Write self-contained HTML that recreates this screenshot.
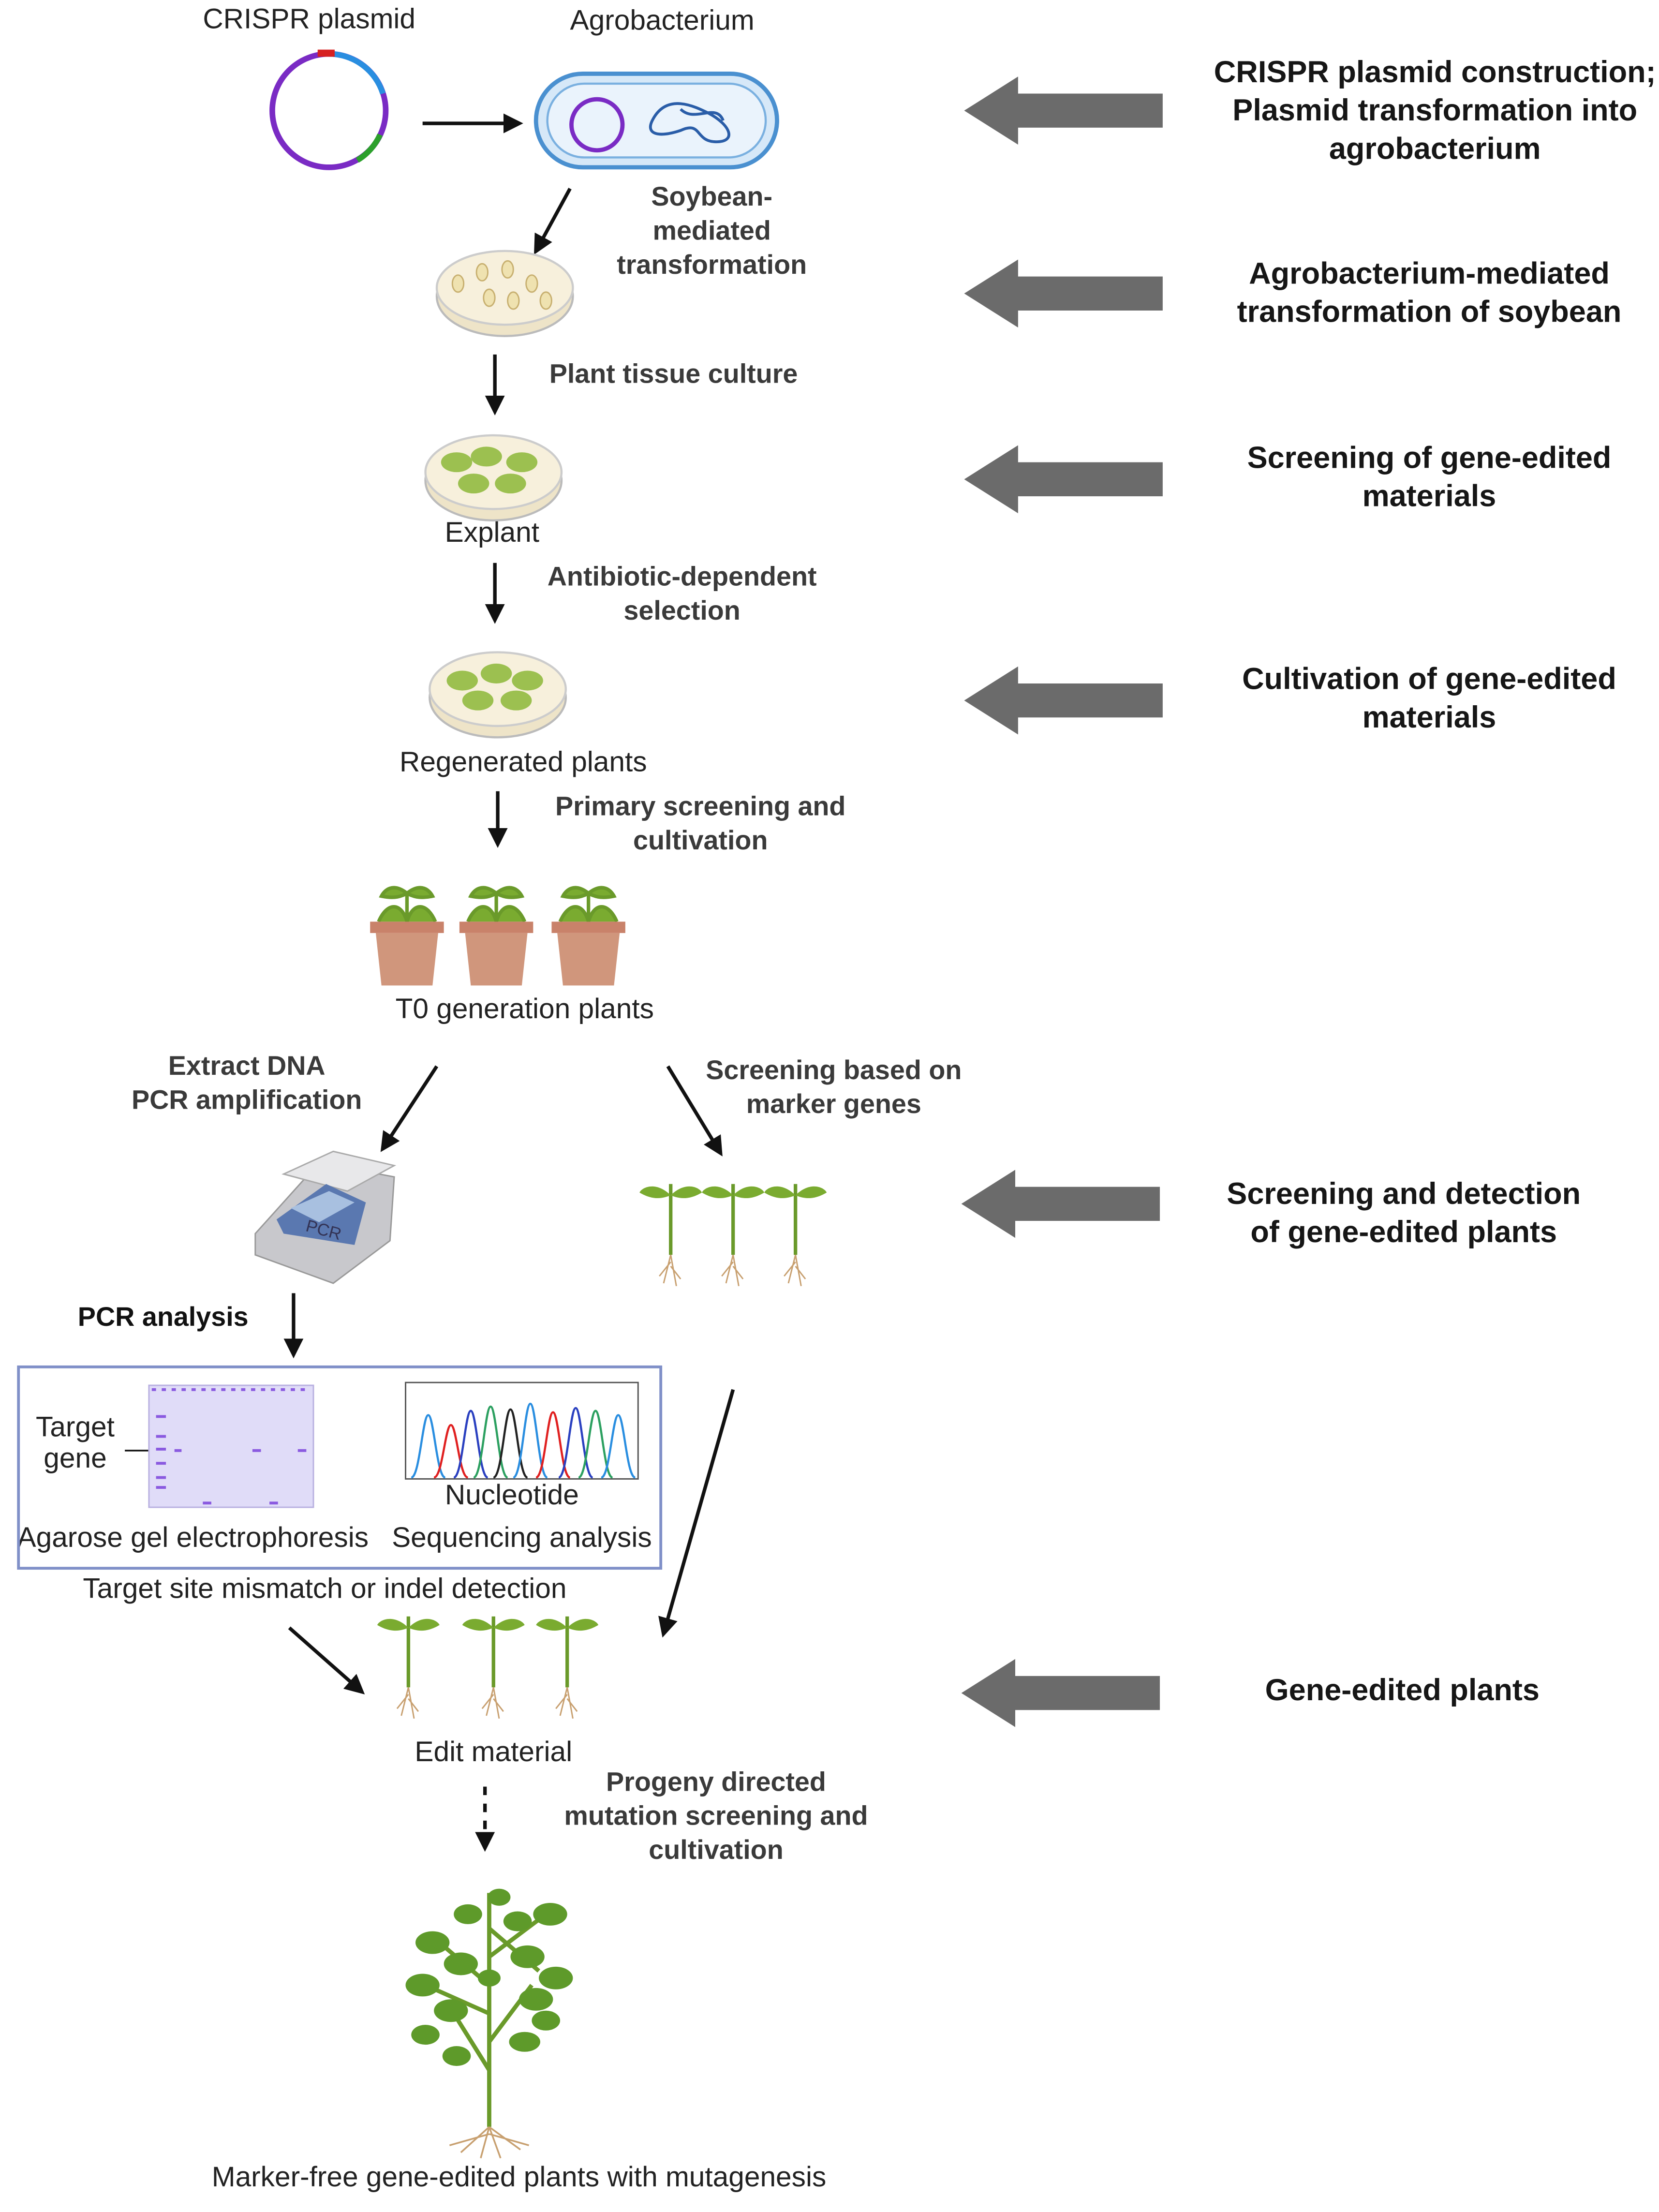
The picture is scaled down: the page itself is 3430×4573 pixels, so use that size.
<!DOCTYPE html>
<html><head><meta charset="utf-8"><style>html,body{margin:0;padding:0;background:#fff}svg{display:block}</style></head>
<body>
<svg width="3430" height="4573" viewBox="0 0 1170 1560" xmlns="http://www.w3.org/2000/svg" font-family="Liberation Sans, sans-serif">
<defs>
<marker id="ah" markerWidth="8" markerHeight="8" refX="6" refY="4" orient="auto" markerUnits="userSpaceOnUse"><path d="M0,0 L8,4 L0,8 z" fill="#111"/></marker>
<marker id="ah2" markerWidth="14" markerHeight="14" refX="11" refY="7" orient="auto" markerUnits="userSpaceOnUse"><path d="M0,0 L14,7 L0,14 z" fill="#111"/></marker>
<g id="dish"><ellipse cx="0" cy="6" rx="48" ry="28" fill="#eee4c8" stroke="#bbb" stroke-width="1.5"/><ellipse cx="0" cy="0" rx="48" ry="26" fill="#f7f0dc" stroke="#ccc" stroke-width="1.5"/></g>
<g id="seed"><path d="M0,0 L0,-50" stroke="#6a9a2a" stroke-width="2.5"/><path d="M0,-42 C-10,-52 -20,-48 -22,-44 C-12,-38 -5,-40 0,-42" fill="#7aab30"/><path d="M0,-42 C10,-52 20,-48 22,-44 C12,-38 5,-40 0,-42" fill="#7aab30"/><path d="M0,0 l-5,20 M0,0 l4,22 M0,5 l-8,10 M0,8 l7,9" stroke="#c8a070" stroke-width="1"/></g>
<g id="pot"><path d="M-20,-40 C-14,-54 -4,-54 0,-40 C4,-54 14,-54 20,-40 M0,-40 L0,-60 M0,-60 C-10,-68 -16,-62 -18,-58 C-8,-56 -4,-58 0,-60 M0,-60 C10,-68 16,-62 18,-58 C8,-56 4,-58 0,-60" stroke="#6a9a2a" stroke-width="2.5" fill="#7aab30"/><rect x="-26" y="-40" width="52" height="8" fill="#c9826a"/><path d="M-22,-32 L22,-32 L18,5 L-18,5 z" fill="#d0967c"/></g>
<g id="garrow"><polygon points="0,0 38,-24 38,-12 140,-12 140,12 38,12 38,24" fill="#6b6b6b"/></g>
</defs>
<g font-size="20" fill="#222" text-anchor="middle">
<text x="218" y="20">CRISPR plasmid</text>
<text x="467" y="21">Agrobacterium</text>
<text x="347" y="382">Explant</text>
<text x="369" y="544">Regenerated plants</text>
<text x="370" y="718">T0 generation plants</text>
<text x="53" y="1013">Target</text><text x="53" y="1035">gene</text>
<text x="361" y="1061">Nucleotide</text>
<text x="136" y="1091">Agarose gel electrophoresis</text>
<text x="368" y="1091">Sequencing analysis</text>
<text x="229" y="1127">Target site mismatch or indel detection</text>
<text x="348" y="1242">Edit material</text>
<text x="366" y="1542">Marker-free gene-edited plants with mutagenesis</text>
</g>
<g font-size="19" font-weight="bold" fill="#3a3a3a" text-anchor="middle">
<text x="502" y="145">Soybean-</text><text x="502" y="169">mediated</text><text x="502" y="193">transformation</text>
<text x="475" y="270">Plant tissue culture</text>
<text x="481" y="413">Antibiotic-dependent</text><text x="481" y="437">selection</text>
<text x="494" y="575">Primary screening and</text><text x="494" y="599">cultivation</text>
<text x="174" y="758">Extract DNA</text><text x="174" y="782">PCR amplification</text>
<text x="588" y="761">Screening based on</text><text x="588" y="785">marker genes</text>
<text x="115" y="935" fill="#111">PCR analysis</text>
<text x="505" y="1263">Progeny directed</text><text x="505" y="1287">mutation screening and</text><text x="505" y="1311">cultivation</text>
</g>
<g font-size="21.5" font-weight="bold" fill="#161616" text-anchor="middle">
<text x="1012" y="58">CRISPR plasmid construction;</text><text x="1012" y="85">Plasmid transformation into</text><text x="1012" y="112">agrobacterium</text>
<text x="1008" y="200">Agrobacterium-mediated</text><text x="1008" y="227">transformation of soybean</text>
<text x="1008" y="330">Screening of gene-edited</text><text x="1008" y="357">materials</text>
<text x="1008" y="486">Cultivation of gene-edited</text><text x="1008" y="513">materials</text>
<text x="990" y="849">Screening and detection</text><text x="990" y="876">of gene-edited plants</text>
<text x="989" y="1199">Gene-edited plants</text>
</g>
<use href="#garrow" x="680" y="78"/><use href="#garrow" x="680" y="207"/><use href="#garrow" x="680" y="338"/><use href="#garrow" x="680" y="494"/><use href="#garrow" x="678" y="849"/><use href="#garrow" x="678" y="1194"/>
<!-- plasmid -->
<circle cx="232" cy="78" r="40" fill="none" stroke="#7a2bc4" stroke-width="4"/>
<path d="M232,38 A40,40 0 0 1 270,66" fill="none" stroke="#2a8ee0" stroke-width="4"/>
<path d="M268,95 A40,40 0 0 1 252,113" fill="none" stroke="#2ca02c" stroke-width="4"/>
<rect x="224" y="35" width="12" height="5" fill="#d62020"/>
<!-- bacterium -->
<rect x="378" y="52" width="170" height="66" rx="33" fill="#d6e8f8" stroke="#4a90d0" stroke-width="3"/>
<rect x="386" y="59" width="154" height="52" rx="26" fill="#eaf3fc" stroke="#7ab0e0" stroke-width="1.5"/>
<circle cx="421" cy="88" r="18" fill="none" stroke="#7a2bc4" stroke-width="3"/>
<path d="M460,85 c10,-20 30,-10 40,-5 c15,8 20,20 5,20 c-15,0 -10,-15 -25,-8 c-15,5 -25,3 -20,-7 m20,-8 c10,10 25,-5 30,8" fill="none" stroke="#2a5da8" stroke-width="2"/>
<!-- arrows -->
<g stroke="#111" stroke-width="2.5" fill="none">
<line x1="298" y1="87" x2="366" y2="87" marker-end="url(#ah2)"/>
<line x1="402" y1="133" x2="378" y2="177" marker-end="url(#ah2)"/>
<line x1="349" y1="250" x2="349" y2="290" marker-end="url(#ah2)"/>
<line x1="349" y1="397" x2="349" y2="437" marker-end="url(#ah2)"/>
<line x1="351" y1="558" x2="351" y2="595" marker-end="url(#ah2)"/>
<line x1="308" y1="752" x2="270" y2="810" marker-end="url(#ah2)"/>
<line x1="471" y1="752" x2="508" y2="813" marker-end="url(#ah2)"/>
<line x1="207" y1="912" x2="207" y2="955" marker-end="url(#ah2)"/>
<line x1="204" y1="1148" x2="255" y2="1193" marker-end="url(#ah2)"/>
<line x1="517" y1="980" x2="468" y2="1152" marker-end="url(#ah2)"/>
<line x1="342" y1="1260" x2="342" y2="1303" stroke-dasharray="6,6" marker-end="url(#ah2)"/>
<line x1="88" y1="1023" x2="118" y2="1023" stroke-width="1.2" marker-end="url(#ah)"/>
</g>
<!-- dishes -->
<use href="#dish" x="356" y="203"/>
<g fill="#efe2b0" stroke="#c8b070"><ellipse cx="323" cy="200" rx="4" ry="6"/><ellipse cx="340" cy="192" rx="4" ry="6"/><ellipse cx="358" cy="190" rx="4" ry="6"/><ellipse cx="375" cy="200" rx="4" ry="6"/><ellipse cx="345" cy="210" rx="4" ry="6"/><ellipse cx="362" cy="212" rx="4" ry="6"/><ellipse cx="385" cy="212" rx="4" ry="6"/></g>
<use href="#dish" x="348" y="333"/>
<g fill="#9cc050"><ellipse cx="322" cy="326" rx="11" ry="7"/><ellipse cx="343" cy="322" rx="11" ry="7"/><ellipse cx="368" cy="326" rx="11" ry="7"/><ellipse cx="334" cy="341" rx="11" ry="7"/><ellipse cx="360" cy="341" rx="11" ry="7"/></g>
<use href="#dish" x="351" y="486"/>
<g fill="#9cc050"><ellipse cx="326" cy="480" rx="11" ry="7"/><ellipse cx="350" cy="475" rx="11" ry="7"/><ellipse cx="372" cy="480" rx="11" ry="7"/><ellipse cx="337" cy="494" rx="11" ry="7"/><ellipse cx="364" cy="494" rx="11" ry="7"/></g>
<use href="#pot" x="287" y="690"/><use href="#pot" x="350" y="690"/><use href="#pot" x="415" y="690"/>
<!-- PCR machine -->
<path d="M180,870 L225,820 L278,830 L275,875 L235,905 L180,885 z" fill="#c8c8cc" stroke="#999"/>
<path d="M200,828 L235,812 L278,822 L245,840 z" fill="#e8e8ea" stroke="#aaa"/>
<path d="M195,860 L230,835 L258,848 L250,878 L200,870 z" fill="#5a78b0"/>
<path d="M205,852 L232,840 L250,848 L225,862 z" fill="#a8c0e0"/>
<text x="215" y="868" font-size="12" fill="#335" transform="rotate(15 215 868)">PCR</text>
<use href="#seed" x="473" y="885"/><use href="#seed" x="517" y="885"/><use href="#seed" x="561" y="885"/>
<!-- box -->
<rect x="13" y="964" width="453" height="142" fill="none" stroke="#8090c8" stroke-width="2"/>
<rect x="105" y="977" width="116" height="86" fill="#e0dcf8" stroke="#b8b0e0"/>
<g stroke="#8a5ae0" stroke-width="2"><line x1="110" y1="999" x2="117" y2="999"/><line x1="110" y1="1013" x2="117" y2="1013"/><line x1="110" y1="1022" x2="117" y2="1022"/><line x1="110" y1="1032" x2="117" y2="1032"/><line x1="110" y1="1042" x2="117" y2="1042"/><line x1="110" y1="1049" x2="117" y2="1049"/><line x1="123" y1="1023" x2="128" y2="1023"/><line x1="178" y1="1023" x2="184" y2="1023"/><line x1="210" y1="1023" x2="216" y2="1023"/><line x1="143" y1="1060" x2="149" y2="1060"/><line x1="190" y1="1060" x2="196" y2="1060"/><line x1="107" y1="980" x2="219" y2="980" stroke-dasharray="3,4"/></g>
<rect x="286" y="975" width="164" height="68" fill="#fff" stroke="#555"/>
<g fill="none" stroke-width="1.5">
<path d="M290,1042 C296,1042 298,998 302,998 C306,998 308,1042 314,1042" stroke="#2a8ee0"/>
<path d="M306,1042 C312,1042 314,1005 318,1005 C322,1005 324,1042 330,1042" stroke="#e02020"/>
<path d="M320,1042 C326,1042 328,995 332,995 C336,995 338,1042 344,1042" stroke="#2a40c0"/>
<path d="M334,1042 C340,1042 342,992 346,992 C350,992 352,1042 358,1042" stroke="#2ca060"/>
<path d="M348,1042 C354,1042 356,994 360,994 C364,994 366,1042 372,1042" stroke="#222"/>
<path d="M362,1042 C368,1042 370,990 374,990 C378,990 380,1042 386,1042" stroke="#2a8ee0"/>
<path d="M378,1042 C384,1042 386,996 390,996 C394,996 396,1042 402,1042" stroke="#e02020"/>
<path d="M394,1042 C400,1042 402,993 406,993 C410,993 412,1042 418,1042" stroke="#2a40c0"/>
<path d="M408,1042 C414,1042 416,995 420,995 C424,995 426,1042 432,1042" stroke="#2ca060"/>
<path d="M424,1042 C430,1042 432,998 436,998 C440,998 442,1042 448,1042" stroke="#2a8ee0"/>
</g>
<use href="#seed" x="288" y="1190"/><use href="#seed" x="348" y="1190"/><use href="#seed" x="400" y="1190"/>
<!-- big plant -->
<g>
<path d="M345,1500 L345,1335 M345,1460 L320,1420 M345,1440 L375,1400 M345,1400 L310,1370 M345,1380 L385,1350 M345,1420 L300,1400 M345,1360 L380,1390" stroke="#6a9a2a" stroke-width="3" fill="none"/>
<g fill="#5e9a2a">
<ellipse cx="352" cy="1338" rx="8" ry="6"/><ellipse cx="330" cy="1350" rx="10" ry="7"/><ellipse cx="365" cy="1355" rx="10" ry="7"/><ellipse cx="305" cy="1370" rx="12" ry="8"/><ellipse cx="388" cy="1350" rx="12" ry="8"/><ellipse cx="325" cy="1385" rx="12" ry="8"/><ellipse cx="372" cy="1380" rx="12" ry="8"/><ellipse cx="298" cy="1400" rx="12" ry="8"/><ellipse cx="392" cy="1395" rx="12" ry="8"/><ellipse cx="318" cy="1418" rx="12" ry="8"/><ellipse cx="378" cy="1410" rx="12" ry="8"/><ellipse cx="300" cy="1435" rx="10" ry="7"/><ellipse cx="370" cy="1440" rx="11" ry="7"/><ellipse cx="322" cy="1450" rx="10" ry="7"/><ellipse cx="385" cy="1425" rx="10" ry="7"/><ellipse cx="345" cy="1395" rx="8" ry="6"/></g>
<path d="M345,1500 l-20,18 M345,1500 l22,16 M345,1500 l-6,22 M345,1500 l8,22 M345,1505 l-28,8 M345,1505 l28,8" stroke="#c8a070" stroke-width="1.2"/>
</g>
</svg>
</body></html>
